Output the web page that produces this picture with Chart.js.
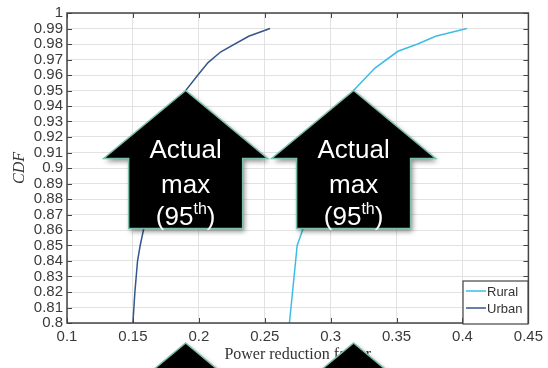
<!DOCTYPE html>
<html>
<head>
<meta charset="utf-8">
<script src="https://cdn.jsdelivr.net/npm/chart.js@4.4.0/dist/chart.umd.min.js"></script>
<style>
  html, body { margin: 0; padding: 0; background: #fff; }
</style>
</head>
<body>
<canvas id="cdfChart" width="548" height="368"></canvas>
<script>
// CDF curves
const urbanX = [0.150, 0.1515, 0.1535, 0.1555, 0.158, 0.161, 0.171, 0.190, 0.1993, 0.207, 0.2167, 0.2378, 0.254];
const urbanY = [0.80, 0.82, 0.84, 0.85, 0.86, 0.87, 0.90, 0.95, 0.96, 0.968, 0.975, 0.985, 0.99];
const ruralX = [0.2687, 0.2705, 0.2746, 0.2795, 0.290, 0.3174, 0.3336, 0.351, 0.366, 0.3796, 0.4033];
const ruralY = [0.80, 0.815, 0.85, 0.862, 0.89, 0.95, 0.9645, 0.9753, 0.980, 0.985, 0.990];

const seriesNames = ['Rural', 'Urban'];
const seriesColors = ['#3cbde6', '#34568c'];
const markX = [0.190, 0.3174];   // "actual max" arrows (95th percentile)
const markY = 0.95;

function toPoints(xs, ys) {
    return xs.map((x, i) => ({ x: x, y: ys[i] }));
}

function fmt(v) {
    return String(parseFloat(v.toFixed(2)));
}

function drawArrow(ctx, tx, ty, withText) {
    ctx.save();
    ctx.beginPath();
    ctx.moveTo(tx, ty);
    ctx.lineTo(tx + 82, ty + 68);
    ctx.lineTo(tx + 57, ty + 68);
    ctx.lineTo(tx + 57, ty + 138);
    ctx.lineTo(tx - 57, ty + 138);
    ctx.lineTo(tx - 57, ty + 68);
    ctx.lineTo(tx - 82, ty + 68);
    ctx.closePath();
    ctx.shadowColor = 'rgba(0,0,0,0.45)';
    ctx.shadowBlur = 5;
    ctx.shadowOffsetX = 2;
    ctx.shadowOffsetY = 3;
    ctx.fillStyle = '#000';
    ctx.fill();
    ctx.shadowColor = 'transparent';
    ctx.strokeStyle = '#7dbdab';
    ctx.lineWidth = 1.5;
    ctx.stroke();

    if (withText) {
        ctx.fillStyle = '#fff';
        ctx.textAlign = 'center';
        ctx.textBaseline = 'middle';
        ctx.font = '26px "Liberation Sans", Arial, sans-serif';
        ctx.fillText('Actual', tx, ty + 60);
        ctx.fillText('max', tx, ty + 95);
        // (95th) with superscript
        const a = '(95', s = 'th', b = ')';
        const wa = ctx.measureText(a).width;
        const wb = ctx.measureText(b).width;
        ctx.font = '16px "Liberation Sans", Arial, sans-serif';
        const ws = ctx.measureText(s).width;
        let x = tx - (wa + ws + wb) / 2;
        ctx.textAlign = 'left';
        ctx.font = '26px "Liberation Sans", Arial, sans-serif';
        ctx.fillText(a, x, ty + 127);
        ctx.font = '16px "Liberation Sans", Arial, sans-serif';
        ctx.fillText(s, x + wa, ty + 119);
        ctx.font = '26px "Liberation Sans", Arial, sans-serif';
        ctx.fillText(b, x + wa + ws, ty + 127);
    }
    ctx.restore();
}

// MATLAB-like frame, inward ticks, legend, labels and arrows
const decorPlugin = {
    id: 'decor',
    afterDatasetsDraw(chart) {
        const ctx = chart.ctx;
        const area = chart.chartArea;
        const xs = chart.scales.x, ys = chart.scales.y;

        ctx.save();
        ctx.strokeStyle = '#444';
        ctx.lineWidth = 1.5;
        ctx.strokeRect(area.left, area.top, area.right - area.left, area.bottom - area.top);
        ctx.lineWidth = 1;
        ctx.beginPath();
        xs.ticks.forEach(t => {
            const px = Math.round(xs.getPixelForValue(t.value)) + 0.5;
            ctx.moveTo(px, area.bottom); ctx.lineTo(px, area.bottom - 5);
            ctx.moveTo(px, area.top); ctx.lineTo(px, area.top + 5);
        });
        ys.ticks.forEach(t => {
            const py = Math.round(ys.getPixelForValue(t.value)) + 0.5;
            ctx.moveTo(area.left, py); ctx.lineTo(area.left + 5, py);
            ctx.moveTo(area.right, py); ctx.lineTo(area.right - 5, py);
        });
        ctx.stroke();

        // axis titles
        ctx.fillStyle = '#333';
        ctx.textAlign = 'center';
        ctx.textBaseline = 'middle';
        ctx.font = '16px "Liberation Serif", "Times New Roman", serif';
        ctx.fillText('Power reduction factor', (area.left + area.right) / 2, 355);
        ctx.save();
        ctx.translate(20, (area.top + area.bottom) / 2);
        ctx.rotate(-Math.PI / 2);
        ctx.font = 'italic 16px "Liberation Serif", "Times New Roman", serif';
        ctx.fillText('CDF', 0, 0);
        ctx.restore();

        // arrows
        const tipY = ys.getPixelForValue(markY);
        markX.forEach(mx => {
            const tx = xs.getPixelForValue(mx);
            drawArrow(ctx, tx, tipY, true);
            drawArrow(ctx, tx, chart.height - 25, false);
        });

        // legend
        const lx = 463, ly = 281, lw = 65, lh = 43;
        ctx.fillStyle = '#fff';
        ctx.fillRect(lx, ly, lw, lh);
        ctx.strokeStyle = '#444';
        ctx.lineWidth = 1.2;
        ctx.strokeRect(lx, ly, lw, lh);
        ctx.font = '13px "Liberation Sans", Arial, sans-serif';
        ctx.textAlign = 'left';
        seriesNames.forEach((name, i) => {
            const yy = ly + 10 + i * 17;
            ctx.strokeStyle = seriesColors[i];
            ctx.lineWidth = 1.5;
            ctx.beginPath();
            ctx.moveTo(lx + 3, yy); ctx.lineTo(lx + 23, yy);
            ctx.stroke();
            ctx.fillStyle = '#333';
            ctx.fillText(name, lx + 24, yy + 1);
        });
        ctx.restore();
    }
};

const ctx = document.getElementById('cdfChart').getContext('2d');
const cdfChart = new Chart(ctx, {
    type: 'scatter',
    data: {
        datasets: [
            {
                label: seriesNames[0],
                data: toPoints(ruralX, ruralY),
                showLine: true,
                borderColor: seriesColors[0],
                borderWidth: 1.5,
                pointRadius: 0,
                tension: 0
            },
            {
                label: seriesNames[1],
                data: toPoints(urbanX, urbanY),
                showLine: true,
                borderColor: seriesColors[1],
                borderWidth: 1.5,
                pointRadius: 0,
                tension: 0
            }
        ]
    },
    options: {
        responsive: false,
        animation: false,
        layout: { padding: { top: 7, right: 12, left: 0, bottom: 0 } },
        plugins: {
            legend: { display: false },
            tooltip: { enabled: false }
        },
        scales: {
            x: {
                type: 'linear',
                min: 0.1,
                max: 0.45,
                afterFit: s => { s.height = 45; },
                border: { display: false },
                grid: { color: '#e2e2e2', drawTicks: false },
                ticks: {
                    stepSize: 0.05,
                    padding: 5,
                    color: '#3a3a3a',
                    font: { family: '"Liberation Sans", Arial, sans-serif', size: 15 },
                    callback: v => fmt(v)
                }
            },
            y: {
                type: 'linear',
                min: 0.8,
                max: 1,
                afterFit: s => { s.width = 67; },
                border: { display: false },
                grid: { color: '#e2e2e2', drawTicks: false },
                ticks: {
                    stepSize: 0.01,
                    autoSkip: false,
                    padding: 4,
                    color: '#3a3a3a',
                    font: { family: '"Liberation Sans", Arial, sans-serif', size: 15 },
                    callback: v => fmt(v)
                }
            }
        }
    },
    plugins: [decorPlugin]
});
</script>
</body>
</html>
